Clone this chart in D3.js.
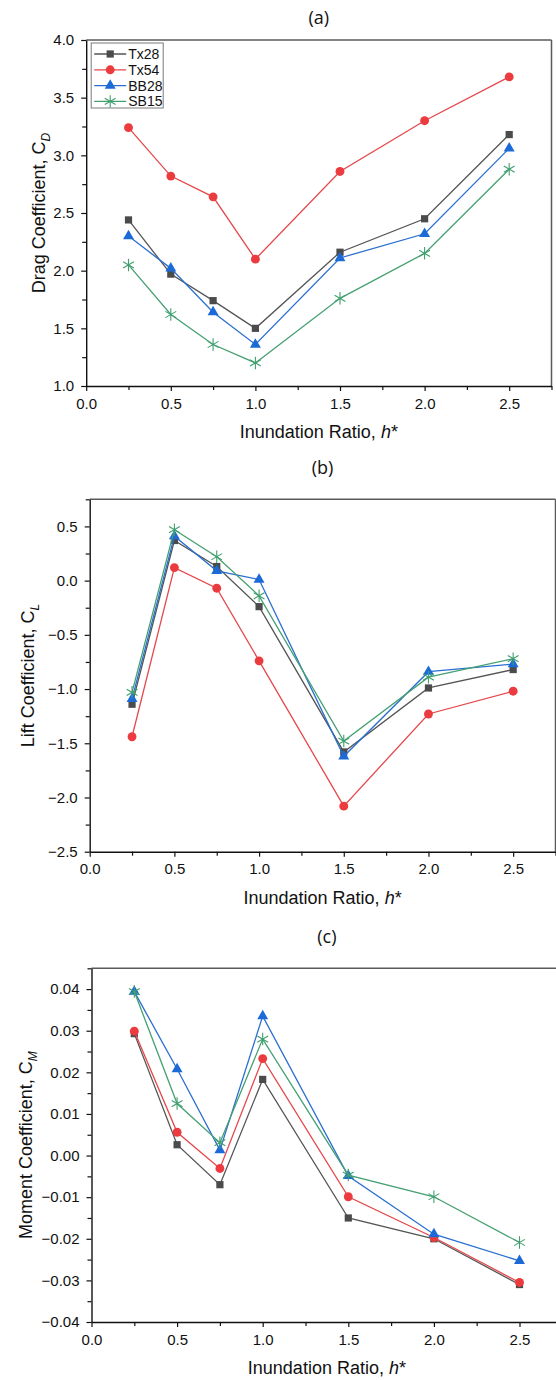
<!DOCTYPE html>
<html>
<head>
<meta charset="utf-8">
<script src="https://cdn.jsdelivr.net/npm/d3@7/dist/d3.min.js"></script>
<style>
  html, body { margin: 0; padding: 0; background: #fff; }
  svg { display: block; }
  .tick text { font-family: "Liberation Sans", Arial, sans-serif; font-size: 15px; fill: #111; }
</style>
</head>
<body>
<svg id="chart" width="556" height="1380"></svg>
<script>
// Inundation ratio values shared by all three panels
const hStar = [0.25, 0.5, 0.75, 1.0, 1.5, 2.0, 2.5];
const seriesNames = ["Tx28", "Tx54", "BB28", "SB15"];

// Drag coefficient C_D
const cdTx28 = [2.44, 1.97, 1.74, 1.50, 2.16, 2.45, 3.18];
const cdTx54 = [3.24, 2.82, 2.64, 2.10, 2.86, 3.30, 3.68];
const cdBB28 = [2.30, 2.02, 1.64, 1.36, 2.11, 2.32, 3.06];
const cdSB15 = [2.05, 1.62, 1.36, 1.20, 1.76, 2.15, 2.88];

// Lift coefficient C_L
const clTx28 = [-1.14, 0.37, 0.13, -0.24, -1.58, -0.99, -0.82];
const clTx54 = [-1.44, 0.12, -0.07, -0.74, -2.08, -1.23, -1.02];
const clBB28 = [-1.09, 0.41, 0.09, 0.01, -1.62, -0.84, -0.77];
const clSB15 = [-1.03, 0.47, 0.22, -0.14, -1.48, -0.89, -0.72];

// Moment coefficient C_M
const cmTx28 = [0.0293, 0.0026, -0.0070, 0.0183, -0.0150, -0.0200, -0.0310];
const cmTx54 = [0.0299, 0.0056, -0.0031, 0.0233, -0.0099, -0.0197, -0.0305];
const cmBB28 = [0.0394, 0.0208, 0.0013, 0.0335, -0.0049, -0.0189, -0.0253];
const cmSB15 = [0.0394, 0.0125, 0.0031, 0.0280, -0.0047, -0.0099, -0.0209];

// Axis ticks
const xTicks = [0.0, 0.5, 1.0, 1.5, 2.0, 2.5];
const xMinorTicks = [0.25, 0.75, 1.25, 1.75, 2.25, 2.75];
const cdTicks = [1.0, 1.5, 2.0, 2.5, 3.0, 3.5, 4.0];
const cdMinor = [1.25, 1.75, 2.25, 2.75, 3.25, 3.75];
const clTicks = [-2.5, -2.0, -1.5, -1.0, -0.5, 0.0, 0.5];
const clMinor = [-2.25, -1.75, -1.25, -0.75, -0.25, 0.25, 0.75];
const cmTicks = [-0.04, -0.03, -0.02, -0.01, 0.00, 0.01, 0.02, 0.03, 0.04];
const cmMinor = [-0.035, -0.025, -0.015, -0.005, 0.005, 0.015, 0.025, 0.035, 0.045];

const styles = {
  Tx28: { color: "#4b4b4b", line: "#555555", symbol: "square" },
  Tx54: { color: "#ec3b3f", line: "#e5474b", symbol: "circle" },
  BB28: { color: "#1c6ad8", line: "#2a6fd0", symbol: "triangle" },
  SB15: { color: "#3f9f6d", line: "#45a072", symbol: "asterisk" }
};

const FONT = '"Liberation Sans", Arial, sans-serif';
const svg = d3.select("#chart");

function marker(g, kind, color) {
  if (kind === "square") {
    g.append("path").attr("d", d3.symbol(d3.symbolSquare, 52)()).attr("fill", color);
  } else if (kind === "circle") {
    g.append("path").attr("d", d3.symbol(d3.symbolCircle, 62)()).attr("fill", color);
  } else if (kind === "triangle") {
    g.append("path").attr("d", d3.symbol(d3.symbolTriangle, 52)()).attr("fill", color);
  } else {
    g.append("path").attr("d", d3.symbol(d3.symbolAsterisk, 110)())
      .attr("fill", "none").attr("stroke", color).attr("stroke-width", 1.1);
  }
}

function panel(cfg) {
  const x = d3.scaleLinear().domain([0, 2.75]).range([cfg.left, cfg.right]);
  const y = d3.scaleLinear().domain(cfg.yDomain).range([cfg.bottom, cfg.top]);
  const g = svg.append("g");

  // frame (top and right)
  g.append("line").attr("x1", cfg.left).attr("x2", cfg.right).attr("y1", cfg.top).attr("y2", cfg.top)
    .attr("stroke", "#5a5a5a").attr("stroke-width", 1.5);
  g.append("line").attr("x1", cfg.right).attr("x2", cfg.right).attr("y1", cfg.top).attr("y2", cfg.bottom)
    .attr("stroke", "#5a5a5a").attr("stroke-width", 1.5);

  // minor ticks
  g.append("g").attr("transform", `translate(0,${cfg.bottom})`)
    .call(d3.axisBottom(x).tickValues(xMinorTicks).tickSize(4).tickFormat(""))
    .call(a => a.select(".domain").remove())
    .call(a => a.selectAll("line").attr("stroke", "#111").attr("stroke-width", 1.2));
  g.append("g").attr("transform", `translate(${cfg.left},0)`)
    .call(d3.axisLeft(y).tickValues(cfg.yMinor).tickSize(4).tickFormat(""))
    .call(a => a.select(".domain").remove())
    .call(a => a.selectAll("line").attr("stroke", "#111").attr("stroke-width", 1.2));

  // major axes
  g.append("g").attr("transform", `translate(0,${cfg.bottom})`)
    .call(d3.axisBottom(x).tickValues(xTicks).tickSize(5).tickSizeOuter(0).tickPadding(7).tickFormat(d3.format(".1f")))
    .call(a => a.select(".domain").attr("stroke", "#111").attr("stroke-width", 1.4))
    .call(a => a.selectAll("line").attr("stroke", "#111").attr("stroke-width", 1.2));
  g.append("g").attr("transform", `translate(${cfg.left},0)`)
    .call(d3.axisLeft(y).tickValues(cfg.yTicks).tickSize(5).tickSizeOuter(0).tickPadding(7).tickFormat(d3.format(cfg.fmt)))
    .call(a => a.select(".domain").attr("stroke", "#111").attr("stroke-width", 1.4))
    .call(a => a.selectAll("line").attr("stroke", "#111").attr("stroke-width", 1.2));

  const cx = (cfg.left + cfg.right) / 2;

  // panel title
  g.append("text").attr("x", cx).attr("y", cfg.top + cfg.titleDy)
    .attr("text-anchor", "middle").attr("font-family", '"Open Sans", sans-serif')
    .attr("font-size", 18).attr("fill", "#111").text(cfg.title);

  // x label
  const xl = g.append("text").attr("x", cx).attr("y", cfg.bottom + 52)
    .attr("text-anchor", "middle").attr("font-family", FONT).attr("font-size", 18).attr("fill", "#111");
  xl.append("tspan").text("Inundation Ratio, ");
  xl.append("tspan").attr("font-style", "italic").text("h");
  xl.append("tspan").text("*");

  // y label
  const yl = g.append("text")
    .attr("transform", `translate(${cfg.yLabelX},${(cfg.top + cfg.bottom) / 2}) rotate(-90)`)
    .attr("text-anchor", "middle").attr("font-family", FONT).attr("font-size", 18).attr("fill", "#111");
  yl.append("tspan").text(cfg.yLabel + ", C");
  yl.append("tspan").attr("font-style", "italic").attr("font-size", 12).attr("dy", 5).text(cfg.sub);

  // series
  const line = d3.line().x(d => x(d[0])).y(d => y(d[1]));
  seriesNames.forEach((name, i) => {
    const pts = hStar.map((h, j) => [h, cfg.values[i][j]]);
    const st = styles[name];
    g.append("path").datum(pts).attr("d", line)
      .attr("fill", "none").attr("stroke", st.line).attr("stroke-width", 1.3);
    g.append("g").selectAll("g").data(pts).join("g")
      .attr("transform", d => `translate(${x(d[0])},${y(d[1])})`)
      .each(function () { marker(d3.select(this), st.symbol, st.color); });
  });

  // legend
  if (cfg.legend) {
    const lg = g.append("g").attr("transform", `translate(${cfg.left + 5},${cfg.top + 3})`);
    lg.append("rect").attr("x", 0).attr("y", 0).attr("width", 72).attr("height", 65)
      .attr("fill", "#fff").attr("stroke", "#7a7a7a").attr("stroke-width", 1);
    seriesNames.forEach((name, i) => {
      const st = styles[name];
      const row = lg.append("g").attr("transform", `translate(0,${11 + i * 15.8})`);
      row.append("line").attr("x1", 3).attr("x2", 35).attr("y1", 0).attr("y2", 0)
        .attr("stroke", st.line).attr("stroke-width", 1.3);
      marker(row.append("g").attr("transform", "translate(19,0)"), st.symbol, st.color);
      row.append("text").attr("x", 37).attr("y", 5).attr("font-family", FONT)
        .attr("font-size", 14).attr("fill", "#111").text(name);
    });
  }
}

panel({
  title: "(a)", titleDy: -16, left: 86.2, right: 551.5, top: 40, bottom: 386,
  yDomain: [1.0, 4.0], yTicks: cdTicks, yMinor: cdMinor, fmt: ".1f",
  yLabel: "Drag Coefficient", sub: "D", yLabelX: 45,
  values: [cdTx28, cdTx54, cdBB28, cdSB15], legend: true
});

panel({
  title: "(b)", titleDy: -25, left: 89.7, right: 555.5, top: 499.3, bottom: 851.7,
  yDomain: [-2.5, 0.75], yTicks: clTicks, yMinor: clMinor, fmt: ".1f",
  yLabel: "Lift Coefficient", sub: "L", yLabelX: 34,
  values: [clTx28, clTx54, clBB28, clSB15], legend: false
});

panel({
  title: "(c)", titleDy: -25, left: 91.5, right: 562.3, top: 968.3, bottom: 1322,
  yDomain: [-0.04, 0.045], yTicks: cmTicks, yMinor: cmMinor, fmt: ".2f",
  yLabel: "Moment Coefficient", sub: "M", yLabelX: 32,
  values: [cmTx28, cmTx54, cmBB28, cmSB15], legend: false
});
</script>
</body>
</html>
